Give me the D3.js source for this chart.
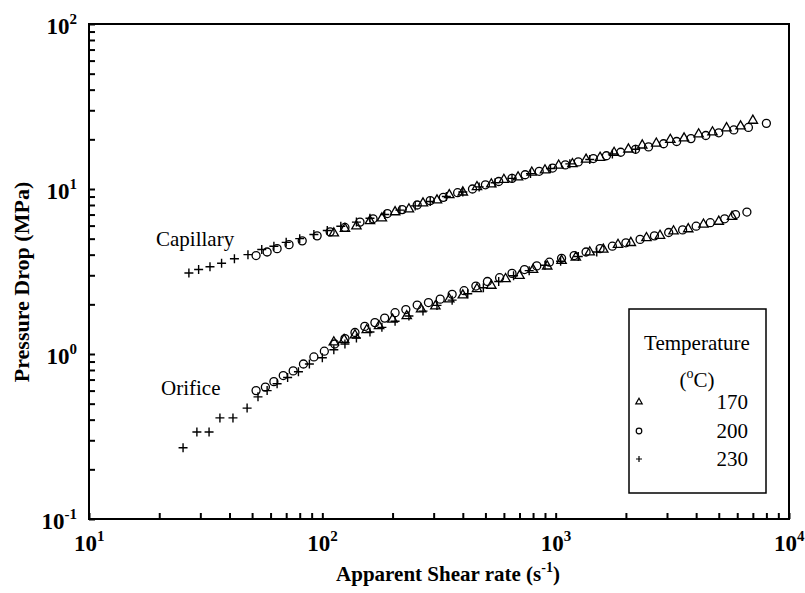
<!DOCTYPE html>
<html>
<head>
<meta charset="utf-8">
<script src="https://cdn.jsdelivr.net/npm/d3@7"></script>
<style>
  body { margin: 0; background: #fff; }
  svg { font-family: "Liberation Serif", "Times New Roman", serif; }
</style>
</head>
<body>
<svg id="chart" width="805" height="593"></svg>
<script>
// capillary data, [shear rate (1/s), pressure drop (MPa)]
const cap170 = [[112,5.4],[125,5.75],[140,5.95],[160,6.4],[180,6.65],[205,7.25],[235,7.55],[270,8.2],[310,8.55],[350,9.2],
  [400,9.55],[460,10.3],[530,10.7],[600,11.4],[690,11.8],[790,12.6],[900,13.0],[1030,13.9],[1180,14.2],[1350,15.1],
  [1550,15.5],[1780,16.6],[2050,17.4],[2350,18.4],[2700,18.9],[3100,19.9],[3550,20.3],[4100,21.5],[4700,22.1],
  [5400,23.4],[6200,24.0],[7000,26.0]];
const cap200 = [[52,3.95],[58,4.15],[64,4.35],[72,4.6],[82,4.85],[95,5.2],[108,5.5],[125,5.85],[145,6.3],[165,6.6],
  [190,7.1],[220,7.5],[255,8.0],[290,8.5],[330,8.9],[380,9.5],[440,10.0],[500,10.6],[570,11.1],[650,11.6],[740,12.2],
  [850,12.8],[970,13.4],[1100,14.0],[1250,14.6],[1450,15.3],[1650,15.9],[1900,16.7],[2200,17.4],[2500,18.0],
  [2900,18.8],[3300,19.4],[3800,20.2],[4400,21.1],[5000,21.9],[5800,22.8],[6700,23.6],[8000,25.0]];
const cap230 = [[26.8,3.1],[29.5,3.25],[33,3.38],[37,3.55],[42,3.78],[48,4.0],[55,4.3],[62,4.5],[70,4.75],[80,5.0],
  [92,5.3],[105,5.6],[120,5.95],[140,6.3],[160,6.65],[185,7.0],[215,7.45],[250,7.9],[290,8.4],[340,9.0],[400,9.6],
  [470,10.3],[550,10.9],[650,11.6],[780,12.4],[950,13.3],[1150,14.2],[1400,15.1],[1750,16.3],[2200,17.4]];

// orifice data
const ori170 = [[112,1.18],[124,1.22],[138,1.30],[155,1.40],[175,1.48],[200,1.62],[230,1.70],[265,1.87],[305,1.95],
  [350,2.15],[400,2.27],[460,2.48],[530,2.60],[610,2.85],[700,2.98],[800,3.24],[920,3.40],[1060,3.68],[1220,3.85],
  [1400,4.14],[1600,4.30],[1850,4.6],[2100,4.72],[2450,5.05],[2800,5.22],[3200,5.55],[3700,5.72],[4300,6.1],
  [5000,6.35],[5700,6.8]];
const ori200 = [[52,0.60],[57,0.63],[62,0.68],[68,0.74],[75,0.79],[83,0.87],[92,0.96],[102,1.04],[113,1.15],[125,1.24],
  [138,1.35],[152,1.47],[168,1.55],[185,1.65],[205,1.78],[228,1.86],[255,1.98],[285,2.05],[320,2.15],[360,2.3],
  [405,2.42],[455,2.58],[510,2.75],[575,2.9],[650,3.08],[735,3.25],[830,3.42],[940,3.6],[1060,3.8],[1200,3.95],
  [1350,4.15],[1550,4.35],[1750,4.5],[2000,4.72],[2300,4.95],[2650,5.2],[3050,5.45],[3500,5.65],[4000,5.95],
  [4600,6.25],[5300,6.6],[5900,7.0],[6600,7.25]];
const ori230 = [[25.3,0.27],[29,0.337],[32.7,0.337],[36.4,0.41],[41.4,0.41],[47.6,0.47],[53,0.55],[58,0.60],[64,0.66],
  [71,0.72],[79,0.78],[88,0.87],[100,0.95],[112,1.06],[125,1.15],[140,1.25],[160,1.36],[180,1.45],[205,1.58],
  [235,1.70],[270,1.82],[310,1.97],[360,2.12],[420,2.32],[490,2.52],[570,2.75],[660,2.98],[770,3.2],[900,3.45],
  [1050,3.65],[1250,3.9],[1500,4.15]];

const xMajor = [1, 2, 3, 4];     // exponents of 10
const yMajor = [-1, 0, 1, 2];
const legendLabels = ["170", "200", "230"];

const margin = {top: 24, right: 16, bottom: 74, left: 89};
const width = 805 - margin.left - margin.right;
const height = 593 - margin.top - margin.bottom;

const svg = d3.select("#chart");
const g = svg.append("g").attr("transform", "translate(" + margin.left + "," + margin.top + ")");

const x = d3.scaleLog().domain([10, 10000]).range([0, width]);
const y = d3.scaleLog().domain([0.1, 100]).range([height, 0]);

function logTicks(lo, hi) {
  let t = [];
  for (let e = lo; e < hi; e++) {
    for (let m = 1; m < 10; m++) t.push(m * Math.pow(10, e));
  }
  t.push(Math.pow(10, hi));
  return t;
}

const xAxis = d3.axisBottom(x).tickValues(logTicks(1, 4)).tickSize(-6).tickFormat("");
const yAxis = d3.axisLeft(y).tickValues(logTicks(-1, 2)).tickSize(-6).tickFormat("");

g.append("g").attr("transform", "translate(0," + height + ")").call(xAxis);
g.append("g").call(yAxis);
g.selectAll(".domain").remove();
g.selectAll(".tick line").attr("stroke", "#000").attr("stroke-width", 2);

// frame
g.append("rect").attr("x", 0).attr("y", 0).attr("width", width).attr("height", height)
  .attr("fill", "none").attr("stroke", "#000").attr("stroke-width", 2);

// tick labels with superscripts
function powLabel(sel, e) {
  sel.append("tspan").text("10");
  sel.append("tspan").attr("dy", -10).attr("font-size", 15).text(e);
}
xMajor.forEach(function (e) {
  const t = g.append("text").attr("x", x(Math.pow(10, e)) - 15).attr("y", height + 32)
    .attr("font-size", 23).attr("font-weight", "bold");
  powLabel(t, e);
});
yMajor.forEach(function (e) {
  const t = g.append("text").attr("x", -12).attr("y", y(Math.pow(10, e)) + 10)
    .attr("text-anchor", "end").attr("font-size", 23).attr("font-weight", "bold");
  powLabel(t, e);
});

// axis titles
const xt = svg.append("text").attr("x", 448).attr("y", 581)
  .attr("text-anchor", "middle").attr("font-size", 21).attr("font-weight", "bold");
xt.append("tspan").text("Apparent Shear rate (s");
xt.append("tspan").attr("dy", -9).attr("font-size", 14).text("-1");
xt.append("tspan").attr("dy", 9).text(")");

svg.append("text").attr("transform", "translate(29,282) rotate(-90)")
  .attr("text-anchor", "middle").attr("font-size", 22).attr("font-weight", "bold")
  .text("Pressure Drop (MPa)");

// markers
const tri = d3.symbol().type(d3.symbolTriangle).size(38);
function drawSeries(data, kind) {
  const sel = g.append("g").selectAll("path").data(data).enter();
  if (kind === "tri") {
    sel.append("path").attr("d", tri)
      .attr("transform", function (d) { return "translate(" + x(d[0]) + "," + y(d[1]) + ")"; })
      .attr("fill", "none").attr("stroke", "#000").attr("stroke-width", 1.3);
  } else if (kind === "circ") {
    sel.append("circle").attr("cx", function (d) { return x(d[0]); }).attr("cy", function (d) { return y(d[1]); })
      .attr("r", 4).attr("fill", "none").attr("stroke", "#000").attr("stroke-width", 1.3);
  } else {
    sel.append("path")
      .attr("d", function (d) {
        const cx = x(d[0]), cy = y(d[1]);
        return "M" + (cx - 4.5) + "," + cy + "H" + (cx + 4.5) + "M" + cx + "," + (cy - 4.5) + "V" + (cy + 4.5);
      })
      .attr("stroke", "#000").attr("stroke-width", 1.4);
  }
}
drawSeries(cap230, "plus");
drawSeries(cap200, "circ");
drawSeries(cap170, "tri");
drawSeries(ori230, "plus");
drawSeries(ori200, "circ");
drawSeries(ori170, "tri");

// curve labels
svg.append("text").attr("x", 156).attr("y", 246).attr("font-size", 21).text("Capillary");
svg.append("text").attr("x", 161).attr("y", 395).attr("font-size", 21).text("Orifice");

// legend
const lg = svg.append("g");
lg.append("rect").attr("x", 629).attr("y", 309).attr("width", 137).attr("height", 184)
  .attr("fill", "#fff").attr("stroke", "#000").attr("stroke-width", 1.5);
lg.append("text").attr("x", 697).attr("y", 350).attr("text-anchor", "middle").attr("font-size", 21).text("Temperature");
const lc = lg.append("text").attr("x", 697).attr("y", 387).attr("text-anchor", "middle").attr("font-size", 21);
lc.append("tspan").text("(");
lc.append("tspan").attr("dy", -9).attr("font-size", 14).text("o");
lc.append("tspan").attr("dy", 9).text("C)");
const ly = [402, 431, 459];
legendLabels.forEach(function (lab, i) {
  lg.append("text").attr("x", 748).attr("y", ly[i] + 7).attr("text-anchor", "end").attr("font-size", 21).text(lab);
});
lg.append("path").attr("d", d3.symbol().type(d3.symbolTriangle).size(18))
  .attr("transform", "translate(639," + ly[0] + ")").attr("fill", "none").attr("stroke", "#000").attr("stroke-width", 1.2);
lg.append("circle").attr("cx", 639).attr("cy", ly[1]).attr("r", 2.8).attr("fill", "none").attr("stroke", "#000").attr("stroke-width", 1.2);
lg.append("path").attr("d", "M636," + ly[2] + "H642M639," + (ly[2] - 3) + "V" + (ly[2] + 3))
  .attr("stroke", "#000").attr("stroke-width", 1.2);
</script>
</body>
</html>
